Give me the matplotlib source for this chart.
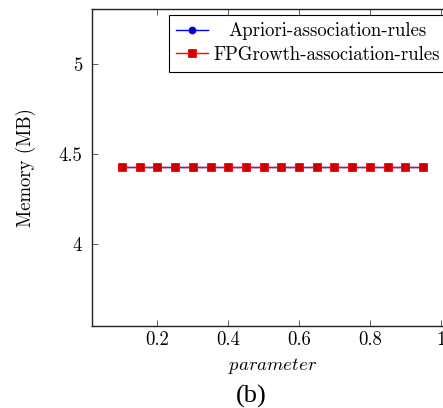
import matplotlib
matplotlib.use("Agg")
import matplotlib.pyplot as plt
from matplotlib.transforms import Affine2D

# Data
parameter = [0.10, 0.15, 0.20, 0.25, 0.30, 0.35, 0.40, 0.45, 0.50,
             0.55, 0.60, 0.65, 0.70, 0.75, 0.80, 0.85, 0.90, 0.95]
apriori_mem = [4.43] * 18
fpgrowth_mem = [4.43] * 18
xticks = [0.2, 0.4, 0.6, 0.8, 1.0]
xticklabels = ["0.2", "0.4", "0.6", "0.8", "1"]
yticks = [4.0, 4.5, 5.0]
yticklabels = ["4", "4.5", "5"]

plt.rcParams['font.family'] = ['cmr10', 'DejaVu Serif']
plt.rcParams['mathtext.fontset'] = 'cm'
plt.rcParams['axes.unicode_minus'] = False

W, H = 443, 408
fig = plt.figure(figsize=(W / 100, H / 100), dpi=100)
ax = fig.add_axes([92 / W, (H - 325.7) / H, 361 / W, (325.7 - 9) / H])

FS = 13.5
ax.plot(parameter, apriori_mem, color=(0, 0, 1), lw=1.0, marker='o', ms=5,
        markerfacecolor=(0, 0, 0.8), markeredgecolor=(0, 0, 1), mew=0.6,
        label='Apriori-association-rules')
ax.plot(parameter, fpgrowth_mem, color=(1, 0, 0), lw=1.0, marker='s', ms=5.4,
        markerfacecolor=(0.8, 0, 0), markeredgecolor=(1, 0, 0), mew=0.6,
        label='FPGrowth-association-rules')

ax.set_xlim(0.015, 1.035)
ax.set_ylim(3.545, 5.308)
ax.set_xticks(xticks, xticklabels)
ax.set_yticks(yticks, yticklabels)
ax.tick_params(direction='in', length=4, width=0.6, top=True, right=True,
               labelsize=FS, color='#444444')
ax.tick_params(axis='x', pad=4)
ax.tick_params(axis='y', pad=7)
for s in ax.spines.values():
    s.set_linewidth(1.0)
    s.set_color('#222222')

ax.set_xlabel(r'$parameter$', fontsize=FS, labelpad=5)
ax.set_ylabel('Memory (MB)', fontsize=FS, labelpad=16)

leg = ax.legend(loc='upper right',
                bbox_to_anchor=(1 - 6 / 361, 1 - 6 / 316.7),
                borderaxespad=0, fontsize=FS, fancybox=False,
                edgecolor='black', framealpha=1, handlelength=1.7,
                handletextpad=0.25, labelspacing=0.3, borderpad=0.4)
leg.get_frame().set_linewidth(0.8)
# center the shorter label like pgfplots does
texts = leg.get_texts()
texts[0].set_transform(texts[0].get_transform() + Affine2D().translate(15, 0))

fig.text(251.5 / W, 1 - 396 / H, '(b)', fontsize=19,
         family=['Liberation Serif'], ha='center', va='center')

fig.savefig('out.png', dpi=100)
